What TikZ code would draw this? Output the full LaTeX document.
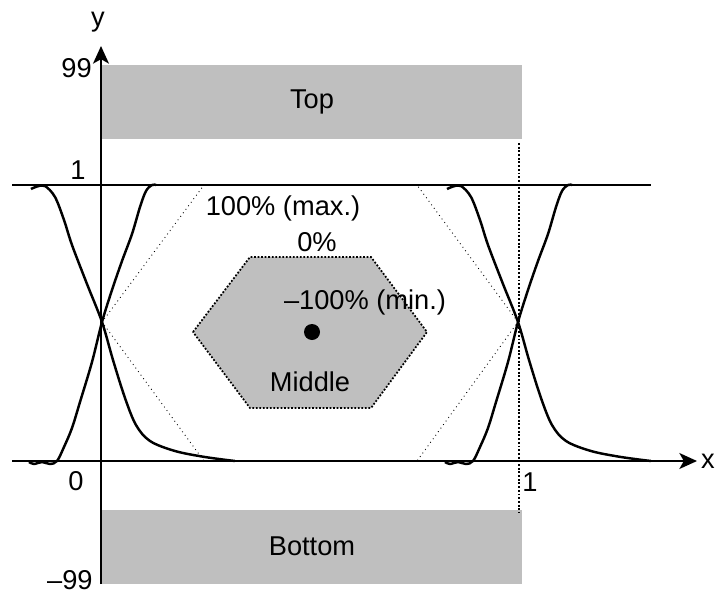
\documentclass[tikz,border=0pt]{standalone}
\usepackage{fontspec}
\setmainfont{Liberation Sans}
\usetikzlibrary{arrows.meta,positioning}
\tikzset{
    axis/.style = {line width=1.4pt, -{Stealth[length=10pt,width=9pt,inset=2.5pt]}},
    level/.style = {line width=1.4pt},
    signal/.style = {line width=1.4pt, line join=round},
    band/.style = {rectangle, fill=black!25, minimum width=8.4cm, minimum height=1.48cm, text centered},
    mask/.style = {draw, densely dotted, line width=1pt, fill=black!25},
    bound/.style = {dotted, line width=0.5pt},
    marker/.style = {densely dotted, line width=1.1pt},
    txt/.style = {inner sep=0pt, font=\fontsize{15.5}{18}\selectfont}
}

\begin{document}
\begin{tikzpicture}[x=0.02cm, y=-0.02cm]
    \useasboundingbox (0,0) rectangle (716,595);

    % reference points
    \coordinate (xstart) at (12,461);
    \coordinate (xend) at (697,461);
    \coordinate (ystart) at (101,584);
    \coordinate (yend) at (101,46);
    \coordinate (hstart) at (12,185);
    \coordinate (hend) at (651,185);
    \coordinate (mtop) at (519,143);
    \coordinate (mbot) at (519,513);
    \coordinate (xl) at (102,322);
    \coordinate (xr) at (518,322);

    % bands and mask
    \node [band] (top) at (312,102) {};
    \node [band] (bottom) at (312,546.5) {};
    \draw [mask] (193,332) -- (250,257) -- (371,257) -- (427,332) -- (371,408) -- (250,408) -- cycle;
    \draw [bound] (204,185) -- (417,185) -- (xr) -- (417,461) -- (204,461) -- (xl) -- cycle;
    \node [circle, fill, inner sep=0pt, minimum size=0.32cm] (centre) at (312,332) {};

    % eye traces
    \foreach \s in {0,416} {
        \begin{scope}[xshift=\s*0.02cm]
            \draw [signal] plot [smooth, tension=0.55] coordinates {(31,189) (37,186.5) (45,186) (55,197) (64,220) (72,245) (87,284) (102,322) (113,360) (125,398) (136,425) (150,441) (175,451) (205,457) (235,461)};
            \draw [signal] plot [smooth, tension=0.55] coordinates {(29,462) (34,464) (42,462) (50,464) (57,461) (64,447) (72,428) (80,402) (92,362) (102,322) (112,290) (122,261) (132,234) (140,207) (146,191) (152,185) (156,185)};
        \end{scope}
    }

    % axes and levels
    \draw [level] (hstart) -- (hend);
    \draw [axis] (xstart) -- (xend);
    \draw [axis] (ystart) -- (yend);
    \draw [marker] (mtop) -- (mbot);

    % labels
    \node [txt] at (top.center) {Top};
    \node [txt] at (bottom.center) {Bottom};
    \node [txt] (middle) at (310,382) {Middle};
    \node [txt] (maxlbl) at (283,208) {100\% (max.)};
    \node [txt] (zerolbl) at (317,242) {0\%};
    \node [txt] (minlbl) at (365,302) {\textendash100\% (min.)};
    \node [txt] (ylbl) at (98,22) {y};
    \node [txt] (xlbl) at (708,461) {x};
    \node [txt, anchor=east] (ymax) at (92,68) {99};
    \node [txt] (yone) at (78,170) {1};
    \node [txt] (xzero) at (76,481) {0};
    \node [txt] (xone) at (530,482) {1};
    \node [txt, anchor=east] (ymin) at (93,580) {\textendash99};
\end{tikzpicture}
\end{document}
